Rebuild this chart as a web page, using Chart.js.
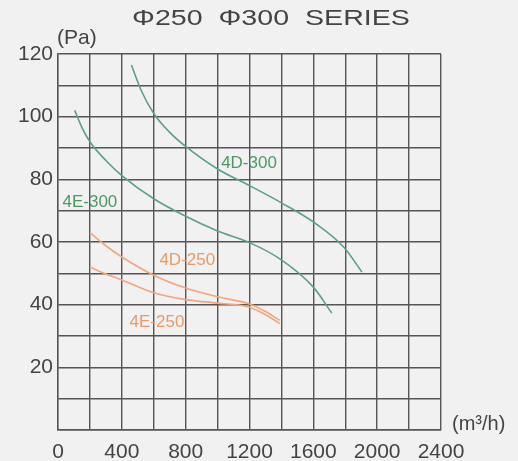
<!DOCTYPE html>
<html>
<head>
<meta charset="utf-8">
<script src="https://cdn.jsdelivr.net/npm/chart.js@4/dist/chart.umd.min.js"></script>
<style>
  html, body { margin: 0; padding: 0; background: #f1f1f1; }
  #wrap { width: 518px; height: 461px; }
</style>
</head>
<body>
<div id="wrap"><canvas id="fanChart" width="518" height="461"></canvas></div>
<script>
// airflow (m3/h) and static pressure (Pa)
const flow4D300 = [460, 520, 600, 700, 800, 1000, 1200, 1400, 1600, 1790, 1905];
const pa4D300 = [116.5, 108.5, 101, 95, 90.5, 83.3, 78, 72.5, 66.4, 58.4, 50.4];

const flow4E300 = [105, 150, 200, 300, 400, 600, 800, 1000, 1200, 1400, 1600, 1716];
const pa4E300 = [102, 96.5, 92, 86, 81.2, 73.8, 68.2, 63.5, 59.8, 54.3, 45.6, 37.3];

const flow4D250 = [200, 300, 400, 600, 800, 1000, 1200, 1300, 1390];
const pa4D250 = [63, 58.8, 55.2, 49.4, 45.3, 42.5, 40.2, 37.8, 35];

const flow4E250 = [200, 300, 400, 600, 800, 1000, 1200, 1300, 1390];
const pa4E250 = [52, 49.8, 47.9, 43.8, 41.6, 40.5, 39.2, 36.8, 34];

// curve names and where they sit (data coords)
const curveNames = ["4D-300", "4E-300", "4D-250", "4E-250"];
const nameFlow = [1197, 200, 810, 620];
const namePa = [85, 72.8, 54.3, 34.5];

const green = "#5aa08c";
const orange = "#f2a77c";
const nameColors = ["#4a9a62", "#4a9a62", "#ea9a66", "#ea9a66"];

function toPoints(xs, ys) {
    return xs.map((x, i) => ({ x: x, y: ys[i] }));
}

function curve(label, xs, ys, color) {
    return {
        label: label,
        data: toPoints(xs, ys),
        borderColor: color,
        borderWidth: 1.6,
        pointRadius: 0,
        showLine: true,
        fill: false,
        cubicInterpolationMode: 'monotone'
    };
}

const decor = {
    id: 'decor',
    beforeDraw(chart) {
        const ctx = chart.ctx;
        ctx.save();
        ctx.fillStyle = "#f1f1f1";
        ctx.fillRect(0, 0, chart.width, chart.height);
        ctx.restore();
    },
    afterDraw(chart) {
        const ctx = chart.ctx;
        const xs = chart.scales.x;
        const ys = chart.scales.y;
        ctx.save();
        ctx.fillStyle = "#444";
        ctx.textBaseline = "middle";

        // title is drawn a bit stretched, like the original print
        ctx.save();
        ctx.font = "22px 'Liberation Sans', Arial, sans-serif";
        ctx.textAlign = "center";
        ctx.translate(271, 19);
        ctx.scale(1.3, 1);
        ctx.fillText("\u03A6250  \u03A6300  SERIES", 0, 0);
        ctx.restore();

        ctx.font = "21px 'Liberation Sans', Arial, sans-serif";
        ctx.textAlign = "left";
        ctx.fillText("(Pa)", 57, 38);
        ctx.font = "20px 'Liberation Sans', Arial, sans-serif";
        ctx.fillText("(m\u00B3/h)", 452, 424);

        // curve labels
        ctx.font = "17px 'Liberation Sans', Arial, sans-serif";
        ctx.textAlign = "center";
        curveNames.forEach((name, i) => {
            ctx.fillStyle = nameColors[i];
            ctx.fillText(name, xs.getPixelForValue(nameFlow[i]), ys.getPixelForValue(namePa[i]));
        });
        ctx.restore();
    }
};

new Chart(document.getElementById('fanChart'), {
    type: 'scatter',
    data: {
        datasets: [
            curve("4D-300", flow4D300, pa4D300, green),
            curve("4E-300", flow4E300, pa4E300, green),
            curve("4D-250", flow4D250, pa4D250, orange),
            curve("4E-250", flow4E250, pa4E250, orange)
        ]
    },
    options: {
        responsive: false,
        animation: false,
        layout: { padding: { top: 54, right: 77, left: 0, bottom: 0 } },
        plugins: {
            legend: { display: false },
            tooltip: { enabled: false },
            title: { display: false }
        },
        scales: {
            x: {
                type: 'linear',
                min: 0,
                max: 2400,
                afterFit: s => { s.height = 31; },
                border: { display: true, color: "#555", width: 1.4 },
                grid: { color: "#555", lineWidth: 1.4, drawTicks: false },
                ticks: {
                    stepSize: 200,
                    padding: 10,
                    color: "#444",
                    maxRotation: 0,
                    autoSkip: false,
                    font: { family: "'Liberation Sans', Arial, sans-serif", size: 21 },
                    callback: v => (v % 400 === 0 ? String(v) : "")
                }
            },
            y: {
                min: 0,
                max: 120,
                afterFit: s => { s.width = 58; },
                border: { display: true, color: "#555", width: 1.4 },
                grid: { color: "#555", lineWidth: 1.4, drawTicks: false },
                ticks: {
                    stepSize: 10,
                    padding: 5,
                    color: "#444",
                    autoSkip: false,
                    font: { family: "'Liberation Sans', Arial, sans-serif", size: 21 },
                    callback: v => (v % 20 === 0 && v !== 0 ? String(v) : "")
                }
            }
        }
    },
    plugins: [decor]
});
</script>
</body>
</html>
